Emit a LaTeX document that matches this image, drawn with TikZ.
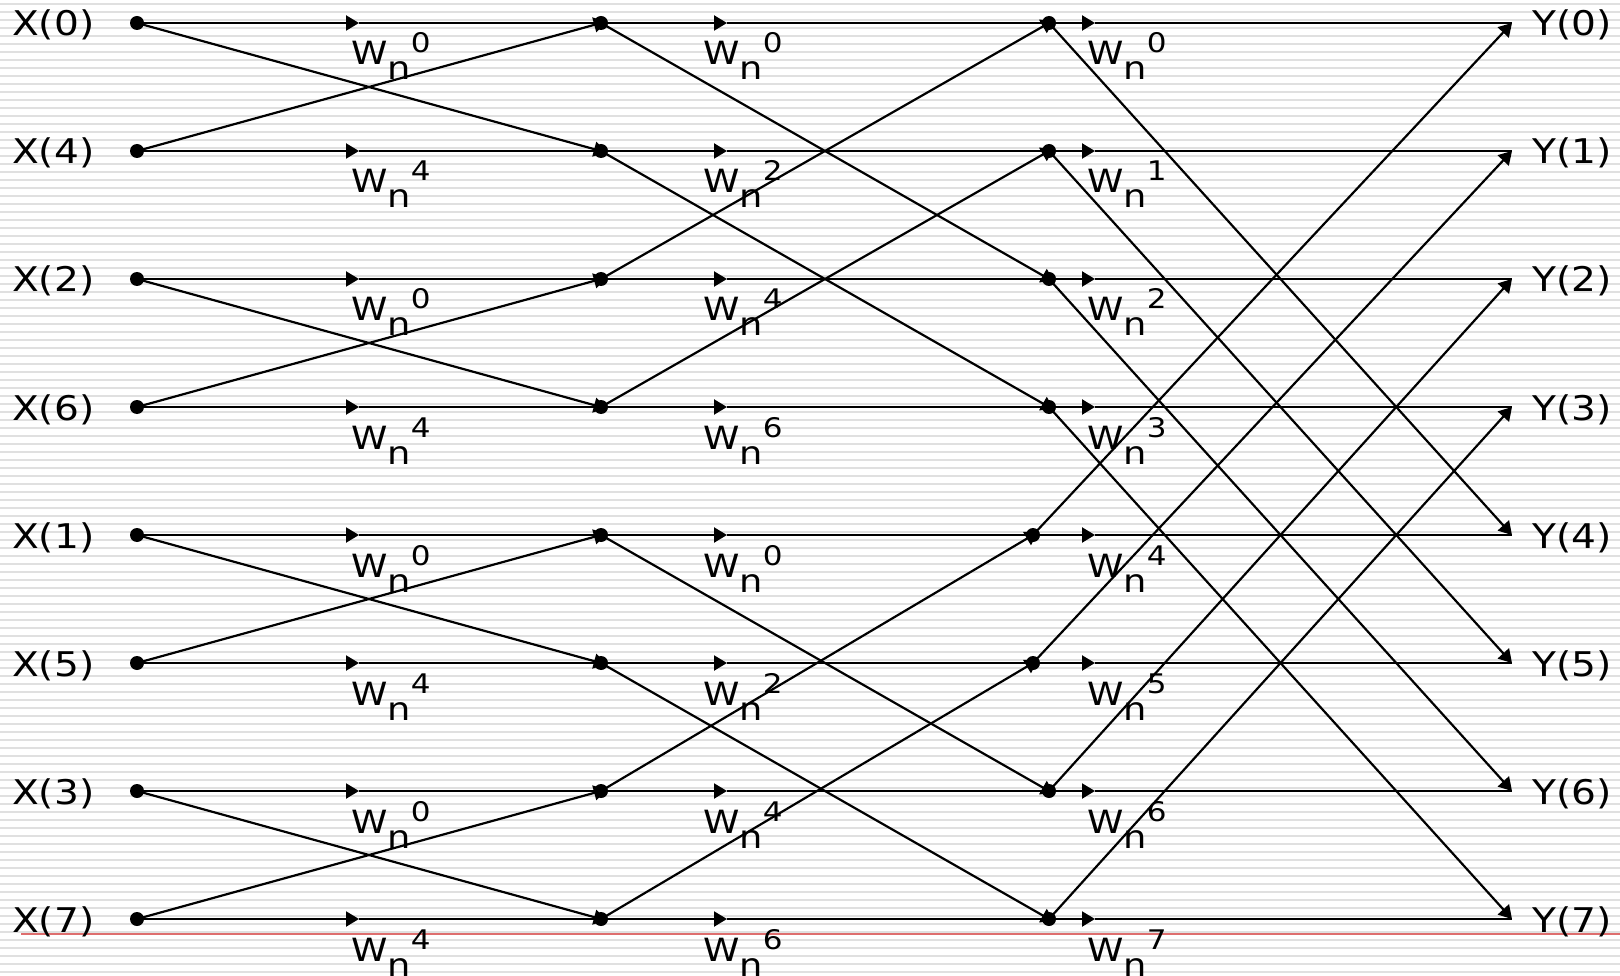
\documentclass[tikz,border=0pt]{standalone}
\usepackage{fontspec}
\setmainfont[FakeStretch=1.15]{DejaVu Sans}
\usetikzlibrary{arrows.meta}
\definecolor{stripe}{RGB}{224,224,224}
\definecolor{redline}{RGB}{222,110,110}
\begin{document}
\begin{tikzpicture}[x=1pt,y=-1pt,
  wire/.style={line width=2.2pt, black},
  tipped/.style={-{Triangle[length=13pt,width=15pt]}},
  dot/.style={circle, fill=black, inner sep=0pt, minimum size=14pt},
  txt/.style={inner sep=0pt, anchor=base west, font=\fontsize{34}{34}\selectfont},
  lbl/.style={inner sep=0pt, anchor=base west, font=\fontsize{32}{32}\selectfont}]
\useasboundingbox (0,0) rectangle (1620,976);
\fill[white] (0,0) rectangle (1620,976);
\foreach \s in {4,12,...,972} \draw[stripe, line width=1.5pt] (0,\s) -- (1620,\s);
\draw[redline, line width=1.2pt] (21,934) -- (1620,934);

% nodes and coordinates
\foreach \i in {0,...,7}{
  \pgfmathsetmacro\y{23+128*\i}
  \pgfmathsetmacro\cx{(\i==4||\i==5) ? 1033 : 1049}
  \node[dot] (a\i) at (137,\y) {};
  \node[dot] (b\i) at (601,\y) {};
  \node[dot] (c\i) at (\cx,\y) {};
  \coordinate (o\i) at (1512,\y);
  \coordinate (m1-\i) at (359,\y);
  \coordinate (m2-\i) at (727,\y);
  \coordinate (m3-\i) at (1095,\y);
}

% input and output labels
\foreach \i/\n in {0/0,1/4,2/2,3/6,4/1,5/5,6/3,7/7}{
  \pgfmathsetmacro\yb{23+128*\i+13}
  \node[txt] (x\i) at (12,\yb) {X(\n)};
  \node[txt] (y\i) at (1532,\yb) {Y(\i)};
}

% twiddle labels
\foreach \i/\p/\q/\r in {0/0/0/0,1/4/2/1,2/0/4/2,3/4/6/3,4/0/0/4,5/4/2/5,6/0/4/6,7/4/6/7}{
  \pgfmathsetmacro\yl{23+128*\i+42}
  \node[lbl] (w1-\i) at (351,\yl) {W\raisebox{-15pt}{n}\raisebox{12pt}{\fontsize{27}{27}\selectfont\p}};
  \node[lbl] (w2-\i) at (703,\yl) {W\raisebox{-15pt}{n}\raisebox{12pt}{\fontsize{27}{27}\selectfont\q}};
  \node[lbl] (w3-\i) at (1087,\yl) {W\raisebox{-15pt}{n}\raisebox{12pt}{\fontsize{27}{27}\selectfont\r}};
}

% horizontal branches
\foreach \i in {0,...,7}{
  \draw[wire,tipped] (a\i.center) -- (m1-\i);
  \draw[wire] (m1-\i) -- (b\i.center);
  \draw[wire,tipped] (b\i.center) -- (m2-\i);
  \draw[wire] (m2-\i) -- (c\i.center);
  \draw[wire,tipped] (c\i.center) -- (m3-\i);
  \draw[wire] (m3-\i) -- (o\i);
}

% stage 1 crossings
\foreach \i/\j in {0/1,1/0,2/3,3/2,4/5,5/4,6/7,7/6}
  \draw[wire,tipped,shorten >=-6pt] (a\i.center) -- (b\j.center);
% stage 2 crossings
\foreach \i/\j in {0/2,2/0,1/3,3/1,4/6,6/4,5/7,7/5}
  \draw[wire,tipped,shorten >=-6pt] (b\i.center) -- (c\j.center);
% stage 3 crossings
\foreach \i/\j in {0/4,4/0,1/5,5/1,2/6,6/2,3/7,7/3}
  \draw[wire,tipped] (c\i.center) -- (o\j);
\end{tikzpicture}
\end{document}
